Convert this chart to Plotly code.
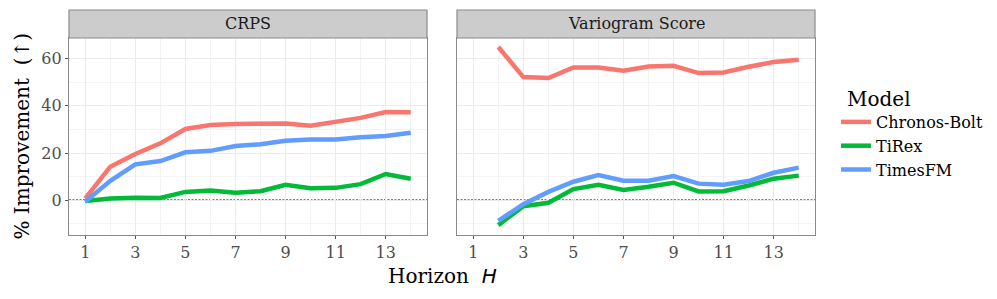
import plotly.graph_objects as go

# ---------------- data ----------------
horizons = list(range(1, 15))
vario_horizons = list(range(2, 15))
models = ["Chronos-Bolt", "TiRex", "TimesFM"]
model_colors = ["#F8766D", "#00BA38", "#619CFF"]
panels = ["CRPS", "Variogram Score"]
x_ticks = [1, 3, 5, 7, 9, 11, 13]
y_ticks = [0, 20, 40, 60]

crps_chronos = [0.7, 14.2, 19.6, 24.1, 30.2, 31.9, 32.3, 32.2, 32.5, 31.6, 33.3, 34.9, 37.4, 37.3]
crps_tirex = [-0.4, 0.7, 1.0, 0.9, 3.5, 4.1, 3.1, 3.8, 6.5, 5.0, 5.2, 6.8, 11.1, 9.1]
crps_timesfm = [-0.7, 8.2, 15.2, 16.6, 20.3, 20.9, 23.0, 23.7, 25.2, 25.7, 25.7, 26.7, 27.2, 28.6]

vario_chronos = [65.0, 52.2, 51.8, 56.3, 56.3, 54.9, 56.7, 57.0, 53.9, 54.2, 56.6, 58.6, 59.6]
vario_tirex = [-10.6, -2.6, -1.1, 4.7, 6.5, 4.3, 5.7, 7.4, 3.7, 3.8, 6.2, 9.1, 10.4]
vario_timesfm = [-8.8, -1.7, 3.5, 7.8, 10.6, 8.2, 8.2, 10.2, 7.0, 6.5, 8.1, 11.6, 13.8]

# ---------------- figure ----------------
W, H = 997, 299
SERIF = "DejaVu Serif"
fig = go.Figure()

crps_series = [crps_chronos, crps_tirex, crps_timesfm]
vario_series = [vario_chronos, vario_tirex, vario_timesfm]
for name, col, ys in zip(models, model_colors, crps_series):
    fig.add_trace(go.Scatter(x=horizons, y=ys, mode="lines", name=name,
                             line=dict(color=col, width=4.5), xaxis="x", yaxis="y",
                             legendgroup=name, showlegend=True))
for name, col, ys in zip(models, model_colors, vario_series):
    fig.add_trace(go.Scatter(x=vario_horizons, y=ys, mode="lines", name=name,
                             line=dict(color=col, width=4.5), xaxis="x2", yaxis="y2",
                             legendgroup=name, showlegend=False))

def px_x(p):
    return p / W

def px_y(p):
    return 1 - p / H

left_dom = [px_x(69), px_x(427)]
right_dom = [px_x(457), px_x(815)]
y_dom = [px_y(235), px_y(38)]

xcommon = dict(range=[0.35, 14.65], tickmode="array", tickvals=x_ticks,
               ticktext=[str(v) for v in x_ticks],
               showgrid=True, gridcolor="#EBEBEB", gridwidth=1.1,
               minor=dict(tickmode="linear", tick0=0, dtick=1, showgrid=True,
                          gridcolor="#F4F4F4", gridwidth=0.6, ticks=""),
               ticks="outside", ticklen=3, tickwidth=1, tickcolor="#555555",
               showline=True, linecolor="#8A8A8A", linewidth=1.2, mirror=True,
               zeroline=False, tickfont=dict(family=SERIF, size=16, color="#4D4D4D"))
ycommon = dict(range=[-14.8, 68.8], domain=y_dom, tickmode="array", tickvals=y_ticks,
               showgrid=True, gridcolor="#EBEBEB", gridwidth=1.1,
               minor=dict(tickmode="linear", tick0=-10, dtick=20, showgrid=True,
                          gridcolor="#F4F4F4", gridwidth=0.6, ticks=""),
               showline=True, linecolor="#8A8A8A", linewidth=1.2, mirror=True,
               zeroline=False, tickfont=dict(family=SERIF, size=16, color="#4D4D4D"))

fig.update_layout(
    width=W, height=H,
    margin=dict(l=0, r=0, t=0, b=0, autoexpand=False),
    paper_bgcolor="white", plot_bgcolor="white",
    xaxis=dict(domain=left_dom, anchor="y", automargin=False, **xcommon),
    xaxis2=dict(domain=right_dom, anchor="y2", automargin=False, **xcommon),
    yaxis=dict(anchor="x", ticks="outside", ticklen=3, tickwidth=1, tickcolor="#555555",
               automargin=False, **ycommon),
    yaxis2=dict(anchor="x2", matches="y", showticklabels=False, ticks="",
                automargin=False, **ycommon),
    legend=dict(x=px_x(836), xanchor="left", y=px_y(105), yanchor="top",
                font=dict(family=SERIF, size=16, color="#000000"),
                itemwidth=30, tracegroupgap=0, bgcolor="rgba(0,0,0,0)"),
    font=dict(family=SERIF),
)

# dotted zero reference lines
for xr, yr in [("x domain", "y"), ("x2 domain", "y2")]:
    fig.add_shape(type="line", xref=xr, yref=yr, x0=0, x1=1, y0=0, y1=0,
                  line=dict(color="black", width=1.2, dash="2px,1.5px"), layer="below")

# facet strips
for dom, label in zip([left_dom, right_dom], panels):
    fig.add_shape(type="rect", xref="paper", yref="paper", x0=dom[0], x1=dom[1],
                  y0=px_y(38), y1=px_y(10), fillcolor="#CCCCCC",
                  line=dict(color="#8A8A8A", width=1.2))
    fig.add_annotation(xref="paper", yref="paper", x=(dom[0] + dom[1]) / 2,
                       y=(px_y(38) + px_y(10)) / 2, text=label, showarrow=False,
                       font=dict(family=SERIF, size=16, color="#1A1A1A"),
                       xanchor="center", yanchor="middle")

# legend title
fig.add_annotation(xref="paper", yref="paper", x=px_x(845), y=px_y(99), text="Model",
                   showarrow=False, font=dict(family=SERIF, size=20, color="#000000"),
                   xanchor="left", yanchor="middle")

# axis titles
fig.add_annotation(xref="paper", yref="paper", x=(left_dom[0] + right_dom[1]) / 2,
                   y=px_y(276),
                   text="Horizon&nbsp;&nbsp;<span style='font-family:DejaVu Sans'><i>H</i></span>",
                   showarrow=False, font=dict(family=SERIF, size=20, color="#000000"),
                   xanchor="center", yanchor="middle")
fig.add_annotation(xref="paper", yref="paper", x=px_x(21), y=(y_dom[0] + y_dom[1]) / 2,
                   text="% Improvement  (↑)", textangle=-90, showarrow=False,
                   font=dict(family=SERIF, size=20, color="#000000"),
                   xanchor="center", yanchor="middle")

fig.write_html("out.html", config={"displayModeBar": False},
               post_script="document.body.style.margin='0';")
